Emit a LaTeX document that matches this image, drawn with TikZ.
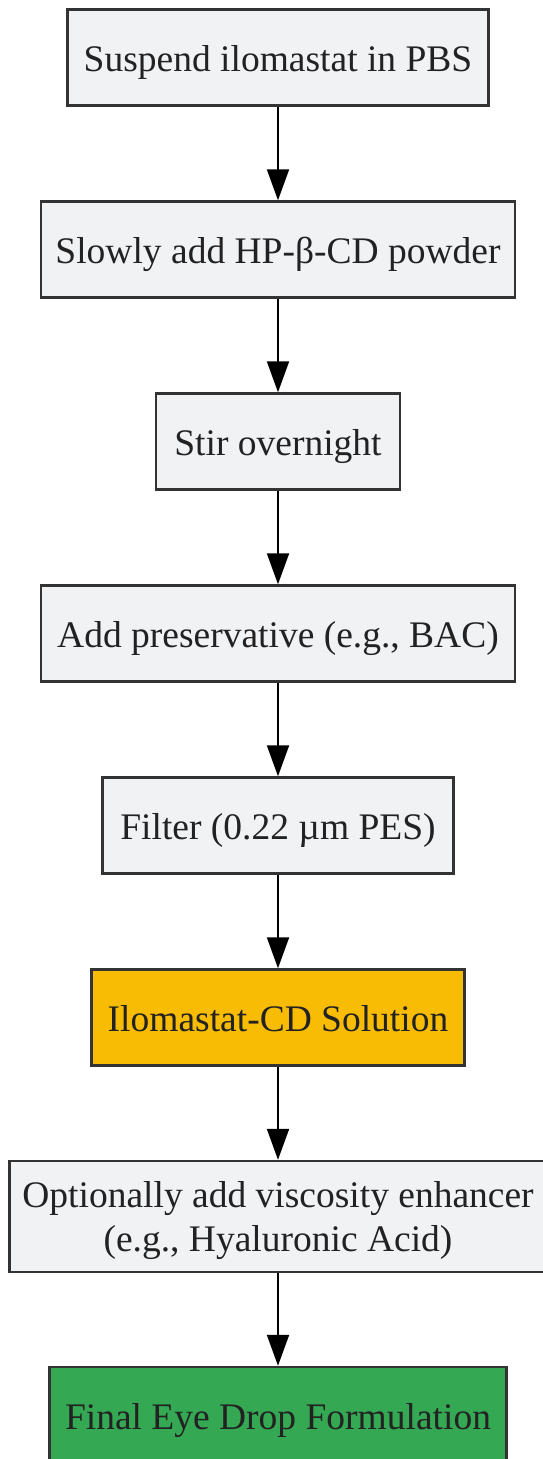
\documentclass[tikz,border=0pt]{standalone}
\usepackage{fontspec}
\setmainfont{Liberation Serif}
\usetikzlibrary{arrows.meta}
\definecolor{boxfill}{HTML}{F1F2F4}
\definecolor{boxline}{HTML}{333333}
\definecolor{txt}{HTML}{222222}
\definecolor{orangefill}{HTML}{F9BC05}
\definecolor{greenfill}{HTML}{34A853}
\begin{document}
\begin{tikzpicture}[x=1pt,y=1pt,
  stepbox/.style={draw=boxline, line width=2.4pt, fill=boxfill, text=txt,
    font=\fontsize{37.5}{44}\selectfont, inner sep=0pt, minimum height=96pt,
    text height=36pt, text depth=8pt},
  flow/.style={draw=black, line width=2pt, -{Triangle[width=22pt,length=31pt]}}]
\useasboundingbox (0,0) rectangle (542,-1459);
\fill[white] (0,0) rectangle (542,-1459);
\node[stepbox, minimum width=421pt] (a) at (278,-57.5) {Suspend ilomastat in PBS};
\node[stepbox, minimum width=473.5pt] (b) at (278,-249.5) {Slowly add HP-β-CD powder};
\node[stepbox, minimum width=243.5pt] (c) at (278,-441.5) {Stir overnight};
\node[stepbox, minimum width=473.5pt] (d) at (278,-633.5) {Add preservative (e.g., BAC)};
\node[stepbox, minimum width=351pt] (e) at (278,-825.5) {Filter (0.22 µm PES)};
\node[stepbox, fill=orangefill, minimum width=373pt] (f) at (278,-1017.5) {Ilomastat-CD Solution};
\node[stepbox, minimum width=537pt, minimum height=111pt, text height=80pt, text depth=10pt] (g) at (278,-1216.5)
  {\setlength{\tabcolsep}{0pt}\begin{tabular}[b]{c}Optionally add viscosity enhancer\\(e.g., Hyaluronic Acid)\end{tabular}};
\node[stepbox, fill=greenfill, minimum width=457pt] (h) at (278,-1415) {Final Eye Drop Formulation};
\draw[flow] (a) -- (b);
\draw[flow] (b) -- (c);
\draw[flow] (c) -- (d);
\draw[flow] (d) -- (e);
\draw[flow] (e) -- (f);
\draw[flow] (f) -- (g);
\draw[flow] (g) -- (h);
\end{tikzpicture}
\end{document}
